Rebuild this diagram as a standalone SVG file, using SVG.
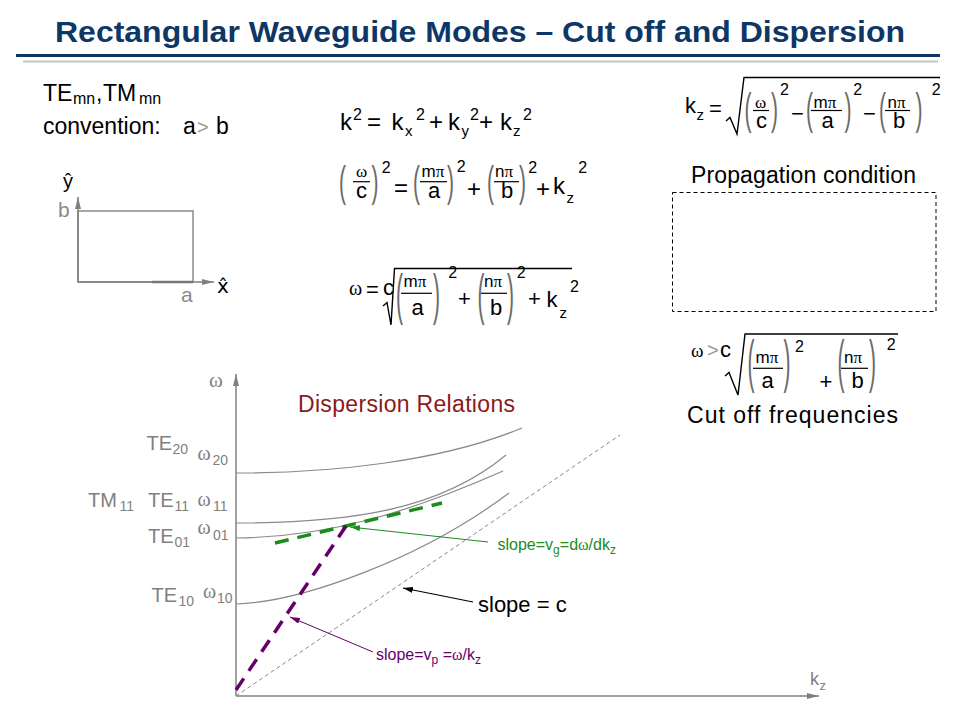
<svg xmlns="http://www.w3.org/2000/svg" width="960" height="720" viewBox="0 0 960 720">
<defs>
<style>
text{font-family:"Liberation Sans",Arial,sans-serif;fill:#000}
.gk{font-family:"Liberation Serif","DejaVu Serif",serif}
.m24{font-size:24px}.m22{font-size:22px}.m20{font-size:20px}.m19{font-size:19px}
.num{font-size:17px}
.sp{font-size:16px}.sb{font-size:15px}
.par{font-size:21px;fill:#6a6a6a}
.bar{stroke:#000;stroke-width:1.2}
.rad{fill:none;stroke:#000;stroke-width:1.4}
.lbl{fill:#808080;font-size:20px}
.lsub{fill:#808080;font-size:14px}
.crv{fill:none;stroke:#8a8a8a;stroke-width:1.2}
.axis{stroke:#808080;stroke-width:1.5;fill:none}
</style>
<marker id="ahg" viewBox="0 0 12 6" refX="12" refY="3" markerWidth="12" markerHeight="6" orient="auto" markerUnits="userSpaceOnUse"><path d="M0,0 L12,3 L0,6 z" fill="#808080"/></marker>
<marker id="ahgreen" viewBox="0 0 10 6" refX="10" refY="3" markerWidth="10" markerHeight="6" orient="auto" markerUnits="userSpaceOnUse"><path d="M0,0 L10,3 L0,6 z" fill="#1a8c1a"/></marker>
<marker id="ahblack" viewBox="0 0 10 6" refX="10" refY="3" markerWidth="10" markerHeight="6" orient="auto" markerUnits="userSpaceOnUse"><path d="M0,0 L10,3 L0,6 z" fill="#000"/></marker>
<marker id="ahpurple" viewBox="0 0 10 6" refX="10" refY="3" markerWidth="10" markerHeight="6" orient="auto" markerUnits="userSpaceOnUse"><path d="M0,0 L10,3 L0,6 z" fill="#660066"/></marker>
</defs>
<rect width="960" height="720" fill="#fff"/>

<g id="title">
<text x="55" y="42" font-size="30" font-weight="bold" style="fill:#0c3766" textLength="850" lengthAdjust="spacingAndGlyphs">Rectangular Waveguide Modes – Cut off and Dispersion</text>
<line x1="16" y1="55.5" x2="940" y2="55.5" stroke="#0c3766" stroke-width="3"/>
<line x1="23" y1="61.5" x2="938" y2="61.5" stroke="#c4c4c4" stroke-width="2"/>
</g>

<g id="modes-convention">
<text x="43" y="100.5" font-size="23">TE</text>
<text x="73" y="104" font-size="16">mn</text>
<text x="96" y="100.5" font-size="23">,</text>
<text x="103" y="100.5" font-size="23">TM</text>
<text x="139" y="104" font-size="16">mn</text>
<text x="43" y="134" font-size="23">convention:</text>
<text x="183" y="134" font-size="23">a</text>
<text x="197" y="134" font-size="20" style="fill:#9a9a9a">&gt;</text>
<text x="216" y="134" font-size="23">b</text>
</g>

<g id="cross-section">
<rect x="78" y="211" width="115" height="71" fill="none" stroke="#8a8a8a" stroke-width="1.5"/>
<line x1="78" y1="282" x2="78" y2="197" class="axis" marker-end="url(#ahg)"/>
<line x1="78" y1="282" x2="214" y2="282" class="axis" marker-end="url(#ahg)"/>
<line x1="152" y1="282" x2="193" y2="282" stroke="#777" stroke-width="2.5"/>
<text x="63" y="188" font-size="20">ŷ</text>
<text x="58" y="217" font-size="21" style="fill:#8a8a8a">b</text>
<text x="217" y="293" font-size="20" style="font-family:'DejaVu Sans','Liberation Sans',sans-serif">x̂</text>
<text x="181" y="302" font-size="21" style="fill:#8a8a8a">a</text>
</g>

<g id="eq-k2">
<text class="m24" x="340" y="130">k</text>
<text class="sp" x="353" y="120">2</text>
<text class="m24" x="367" y="130">=</text>
<text class="m24" x="391.5" y="130">k</text>
<text class="sb" x="405" y="136">x</text>
<text class="sp" x="416" y="120">2</text>
<text class="m24" x="429" y="130">+</text>
<text class="m24" x="448" y="130">k</text>
<text class="sb" x="461.5" y="136">y</text>
<text class="sp" x="470" y="120">2</text>
<text class="m24" x="479" y="130">+</text>
<text class="m24" x="500" y="130">k</text>
<text class="sb" x="513" y="136">z</text>
<text class="sp" x="523" y="120">2</text>
</g>

<g id="eq-omega2">
<text class="par" transform="translate(339,196) scale(1,2.03)">(</text>
<text class="gk num" x="356" y="176.7">ω</text>
<line class="bar" x1="353" y1="181.7" x2="370" y2="181.7"/>
<text class="m22" x="356" y="198.3">c</text>
<text class="par" transform="translate(371.5,196) scale(1,2.03)">)</text>
<text class="sp" x="381.7" y="173">2</text>
<text class="m24" x="394" y="196">=</text>
<text class="par" transform="translate(413,196) scale(1,2.03)">(</text>
<text class="num" x="421.5" y="176.7">m<tspan class="gk">π</tspan></text>
<line class="bar" x1="420" y1="181.7" x2="447" y2="181.7"/>
<text class="m22" x="428" y="198.3">a</text>
<text class="par" transform="translate(447,196) scale(1,2.03)">)</text>
<text class="sp" x="456.7" y="171.7">2</text>
<text class="m24" x="467" y="197">+</text>
<text class="par" transform="translate(487,196) scale(1,2.03)">(</text>
<text class="num" x="495" y="176.7">n<tspan class="gk">π</tspan></text>
<line class="bar" x1="494" y1="181.7" x2="519" y2="181.7"/>
<text class="m22" x="501" y="198.3">b</text>
<text class="par" transform="translate(519,196) scale(1,2.03)">)</text>
<text class="sp" x="528.3" y="173">2</text>
<text class="m24" x="536" y="197">+</text>
<text class="m24" x="553" y="194">k</text>
<text class="sb" x="566.5" y="203">z</text>
<text class="sp" x="578.3" y="173.3">2</text>
</g>

<g id="eq-omega">
<text class="gk m20" x="349" y="295">ω</text>
<text class="m22" x="366" y="297">=</text>
<text class="m22" x="383" y="295">c</text>
<path class="rad" d="M383,306 L387,302.5 L391,325 L394.5,268.5 H572"/>
<text class="par" transform="translate(396,313.4) scale(1,2.64)">(</text>
<text class="num" x="403.5" y="287.3">m<tspan class="gk">π</tspan></text>
<line class="bar" x1="401" y1="293.3" x2="432" y2="293.3"/>
<text class="m22" x="411.5" y="315">a</text>
<text class="par" transform="translate(433,313.4) scale(1,2.64)">)</text>
<text class="sp" x="448.3" y="278">2</text>
<text class="m22" x="458" y="306">+</text>
<text class="par" transform="translate(477.5,313.4) scale(1,2.64)">(</text>
<text class="num" x="484" y="287.3">n<tspan class="gk">π</tspan></text>
<line class="bar" x1="481" y1="293.3" x2="507" y2="293.3"/>
<text class="m22" x="490" y="315">b</text>
<text class="par" transform="translate(507,313.4) scale(1,2.64)">)</text>
<text class="sp" x="516.7" y="278">2</text>
<text class="m22" x="528" y="306">+</text>
<text class="m22" x="546.5" y="307">k</text>
<text class="sb" x="559.5" y="318">z</text>
<text class="sp" x="570" y="291.7">2</text>
</g>

<g id="eq-kz">
<text class="m22" x="685" y="113.3">k</text>
<text class="sb" x="696.5" y="120">z</text>
<text class="m22" x="709" y="116">=</text>
<path class="rad" d="M726,121 L730,117.5 L737,134 L744,77.5 H940"/>
<text class="par" transform="translate(744.5,124) scale(1,2.11)">(</text>
<text class="gk num" x="755" y="107.7">ω</text>
<line class="bar" x1="753" y1="110.5" x2="769" y2="110.5"/>
<text class="m22" x="756" y="128.3">c</text>
<text class="par" transform="translate(771,124) scale(1,2.11)">)</text>
<text class="sp" x="780" y="95">2</text>
<text class="m22" x="791" y="121">−</text>
<text class="par" transform="translate(806,124) scale(1,2.11)">(</text>
<text class="num" x="813.5" y="107.7">m<tspan class="gk">π</tspan></text>
<line class="bar" x1="811" y1="110.5" x2="842" y2="110.5"/>
<text class="m22" x="821.5" y="128.3">a</text>
<text class="par" transform="translate(844.5,124) scale(1,2.11)">)</text>
<text class="sp" x="853.3" y="95">2</text>
<text class="m22" x="863" y="121">−</text>
<text class="par" transform="translate(879,124) scale(1,2.11)">(</text>
<text class="num" x="887.5" y="107.7">n<tspan class="gk">π</tspan></text>
<line class="bar" x1="885" y1="110.5" x2="910" y2="110.5"/>
<text class="m22" x="893" y="128.3">b</text>
<text class="par" transform="translate(915.5,124) scale(1,2.11)">)</text>
<text class="sp" x="931.7" y="95">2</text>
</g>

<g id="propagation-condition">
<text x="691" y="183" font-size="23" textLength="225" lengthAdjust="spacing">Propagation condition</text>
<rect x="672.5" y="192.5" width="263.5" height="119" fill="none" stroke="#000" stroke-width="1" stroke-dasharray="4,3"/>
</g>

<g id="cutoff">
<text class="gk m19" x="691" y="356.7">ω</text>
<text x="707" y="356.7" font-size="20" style="fill:#9a9a9a">&gt;</text>
<text class="m22" x="720" y="356.7">c</text>
<path class="rad" d="M725,376 L729,372.5 L738,395 L745,334 H898"/>
<text class="par" transform="translate(747.5,381) scale(1,2.69)">(</text>
<text class="num" x="755.5" y="363.3">m<tspan class="gk">π</tspan></text>
<line class="bar" x1="753" y1="368.3" x2="783" y2="368.3"/>
<text class="m22" x="761.5" y="388.3">a</text>
<text class="par" transform="translate(783.5,381) scale(1,2.69)">)</text>
<text class="sp" x="795" y="351.7">2</text>
<text class="m22" x="819.5" y="389">+</text>
<text class="par" transform="translate(837.5,381) scale(1,2.69)">(</text>
<text class="num" x="844" y="363.3">n<tspan class="gk">π</tspan></text>
<line class="bar" x1="841" y1="368.3" x2="868" y2="368.3"/>
<text class="m22" x="851.5" y="388.3">b</text>
<text class="par" transform="translate(869,381) scale(1,2.69)">)</text>
<text class="sp" x="886.7" y="350">2</text>
<text x="687" y="423" font-size="23" textLength="211" lengthAdjust="spacing">Cut off frequencies</text>
</g>

<g id="graph-axes">
<line class="axis" x1="236" y1="696" x2="236" y2="374" marker-end="url(#ahg)"/>
<line class="axis" x1="236" y1="696" x2="819" y2="696" marker-end="url(#ahg)"/>
<text class="gk" x="209" y="387" font-size="21" style="fill:#808080">ω</text>
<text x="810" y="685" font-size="18" style="fill:#808080">k</text>
<text x="819.5" y="690" font-size="13" style="fill:#808080">z</text>
</g>

<g id="dispersion-title">
<text x="298" y="411.7" font-size="23" style="fill:#8b1a1a" textLength="217" lengthAdjust="spacing">Dispersion Relations</text>
</g>

<g id="mode-labels">
<text class="lbl" x="146.5" y="450">TE</text><text class="lsub" x="172.5" y="454">20</text>
<text class="lbl gk" x="197.5" y="460">ω</text><text class="lsub" x="212.5" y="465">20</text>
<text class="lbl" x="88" y="506.7">TM</text><text class="lsub" x="119.5" y="510.5">11</text>
<text class="lbl" x="148" y="506.7">TE</text><text class="lsub" x="174.5" y="510.5">11</text>
<text class="lbl gk" x="197.5" y="506">ω</text><text class="lsub" x="213" y="510.5">11</text>
<text class="lbl" x="148" y="542.7">TE</text><text class="lsub" x="174.5" y="546.5">01</text>
<text class="lbl gk" x="197.5" y="534">ω</text><text class="lsub" x="213" y="540">01</text>
<text class="lbl" x="151.5" y="601.7">TE</text><text class="lsub" x="178.5" y="605.5">10</text>
<text class="lbl gk" x="203" y="598">ω</text><text class="lsub" x="217" y="603">10</text>
</g>

<g id="curves">
<path id="te20" class="crv" d="M236,473 C330,473 440,462 522,428"/>
<path id="te11" class="crv" d="M236,523 C350,523 440,510 506,455"/>
<path id="te01" class="crv" d="M236,538 C330,537 410,512 503,471"/>
<path id="te10" class="crv" d="M236,604 C300,602 420,560 509,493"/>
<path id="light-line" d="M236,696 L620,435" fill="none" stroke="#888" stroke-width="1" stroke-dasharray="4,3"/>
</g>

<g id="connectors">
<line x1="275" y1="543" x2="442" y2="503" stroke="#1a8c1a" stroke-width="3.5" stroke-dasharray="14,9"/>
<line x1="236" y1="690" x2="346" y2="526" stroke="#660066" stroke-width="3.5" stroke-dasharray="14,9"/>
<line x1="488" y1="542" x2="350" y2="527" stroke="#1a8c1a" stroke-width="1" marker-end="url(#ahgreen)"/>
<line x1="473" y1="602" x2="403" y2="588" stroke="#000" stroke-width="1.2" marker-end="url(#ahblack)"/>
<line x1="373" y1="652" x2="290" y2="617" stroke="#660066" stroke-width="1" marker-end="url(#ahpurple)"/>
</g>

<g id="slope-labels">
<text x="497.5" y="550" font-size="16" style="fill:#1a8c1a">slope=v<tspan font-size="12" dy="4">g</tspan><tspan dy="-4">=d</tspan><tspan class="gk">ω</tspan>/dk<tspan font-size="12" dy="4">z</tspan></text>
<text x="478" y="612" font-size="22">slope = c</text>
<text x="376" y="660" font-size="16" style="fill:#660066">slope=v<tspan font-size="12" dy="4">p</tspan><tspan dy="-4"> =</tspan><tspan class="gk">ω</tspan>/k<tspan font-size="12" dy="4">z</tspan></text>
</g>
</svg>
